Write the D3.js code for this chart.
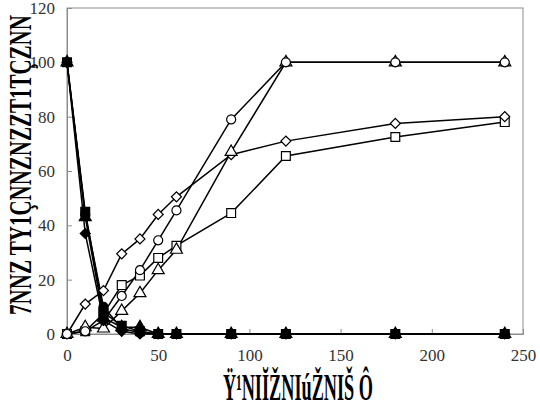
<!DOCTYPE html>
<html>
<head>
<meta charset="utf-8">
<script src="https://cdn.jsdelivr.net/npm/d3@7/dist/d3.min.js"></script>
<style>
  body { margin: 0; background: #fff; }
  svg { display: block; }
</style>
</head>
<body>
<svg id="chart" width="540" height="410"></svg>
<script>
// sampling times
const times = [0, 10, 20, 30, 40, 50, 60, 90, 120, 180, 240];

// rising series (open markers)
const openCircle   = [0, 1, 5, 14, 23.5, 34.5, 45.5, 79, 100, 100, 100];
const openTriangle = [0, 2.5, 2, 8.5, 15, 23.5, 31, 67, 100, 100, 100];
const openDiamond  = [0, 11, 16, 29.5, 35, 44, 50.5, 66, 71, 77.5, 80];
const openSquare   = [0, 1, 7.5, 18, 21.5, 28, 32.5, 44.5, 65.5, 72.5, 78];

// falling series (filled markers)
const fillSquare   = [100, 45, 8, 3, 1, 0, 0, 0, 0, 0, 0];
const fillCircle   = [100, 44, 10, 2, 0.5, 0, 0, 0, 0, 0, 0];
const fillTriangle = [100, 43, 6, 2.5, 2.5, 0, 0, 0, 0, 0, 0];
const fillDiamond  = [100, 37, 5, 1, 0, 0, 0, 0, 0, 0, 0];

const xTicks = [0, 50, 100, 150, 200, 250];
const yTicks = [0, 20, 40, 60, 80, 100, 120];

const xLabel = "Ÿ¹NIĬŽNIúŽNIŠ Ô";
const yLabel = "7NNZ TY1ÇNNZNZZT1TÇZNN";

const svg = d3.select("#chart");
const plotL = 67, plotR = 523, plotT = 8, plotB = 334;

const x = d3.scaleLinear().domain([0, 250]).range([plotL, plotR]);
const y = d3.scaleLinear().domain([0, 120]).range([plotB, plotT]);

// plot frame
svg.append("rect")
  .attr("x", plotL).attr("y", plotT)
  .attr("width", plotR - plotL).attr("height", plotB - plotT)
  .attr("fill", "none").attr("stroke", "#8c8c8c").attr("stroke-width", 1);

const yAxis = svg.append("g")
  .attr("transform", `translate(${plotL},0)`)
  .call(d3.axisLeft(y).tickValues(yTicks).tickSize(-5).tickPadding(12));
const xAxis = svg.append("g")
  .attr("transform", `translate(0,${plotB})`)
  .call(d3.axisBottom(x).tickValues(xTicks).tickSize(-5).tickPadding(12));

[yAxis, xAxis].forEach(g => {
  g.select(".domain").attr("stroke", "#8c8c8c");
  g.selectAll(".tick line").attr("stroke", "#8c8c8c");
  g.selectAll(".tick text")
    .attr("fill", "#333")
    .style("font-family", "'Liberation Serif', 'Times New Roman', serif")
    .style("font-size", "17px");
});
xAxis.selectAll(".tick text").attr("dy", "0.9em");

const line = d3.line().x((d, i) => x(times[i])).y(d => y(d));

const series = [
  { v: openSquare,   shape: "square",   fill: "#fff" },
  { v: openDiamond,  shape: "diamond",  fill: "#fff" },
  { v: openTriangle, shape: "triangle", fill: "#fff" },
  { v: openCircle,   shape: "circle",   fill: "#fff" },
  { v: fillDiamond,  shape: "diamond",  fill: "#000" },
  { v: fillTriangle, shape: "triangle", fill: "#000" },
  { v: fillCircle,   shape: "circle",   fill: "#000" },
  { v: fillSquare,   shape: "square",   fill: "#000" }
];

const symbols = {
  square:   { type: d3.symbolSquare,   size: 78, rot: 0 },
  diamond:  { type: d3.symbolSquare,   size: 50, rot: 45 },
  triangle: { type: d3.symbolTriangle, size: 62, rot: 0 },
  circle:   { type: d3.symbolCircle,   size: 64, rot: 0 }
};

series.forEach(s => {
  svg.append("path")
    .datum(s.v)
    .attr("d", line)
    .attr("fill", "none")
    .attr("stroke", "#000")
    .attr("stroke-width", 1.5);
});

series.forEach(s => {
  const sym = symbols[s.shape];
  svg.append("g").selectAll("path")
    .data(s.v)
    .join("path")
    .attr("d", d3.symbol().type(sym.type).size(sym.size))
    .attr("transform", (d, i) => `translate(${x(times[i])},${y(d)}) rotate(${sym.rot})`)
    .attr("fill", s.fill)
    .attr("stroke", "#000")
    .attr("stroke-width", 1.2);
});

// axis titles (garbled glyphs as in the original), squeezed to the original's width
function squeezedLabel(txt, size, width, pos) {
  const t = svg.append("text")
    .attr("text-anchor", "middle")
    .style("font-family", "'Liberation Serif', serif")
    .style("font-weight", "bold")
    .style("font-size", size + "px")
    .text(txt);
  const sx = width / t.node().getComputedTextLength();
  t.attr("transform", `${pos} scale(${sx},1)`);
  return t;
}

squeezedLabel(xLabel, 38, 150, "translate(298,400)");
squeezedLabel(yLabel, 32, 300, "translate(31,165) rotate(-90)");
</script>
</body>
</html>
